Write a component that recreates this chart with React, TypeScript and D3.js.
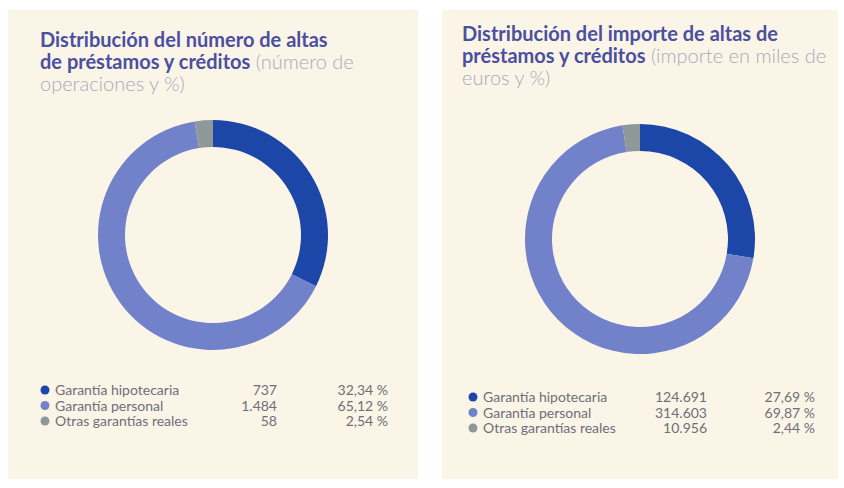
import React from 'react'
import * as d3 from 'd3'

// datos
const categorias = ['Garantía hipotecaria', 'Garantía personal', 'Otras garantías reales']
const operaciones = [737, 1484, 58]
const operacionesPct = [32.34, 65.12, 2.54]
const importes = [124691, 314603, 10956]
const importesPct = [27.69, 69.87, 2.44]
const colores = ['#1d46a9', '#7182cb', '#8e9898']

const es = d3.formatLocale({ decimal: ',', thousands: '.', grouping: [3], currency: ['', ' €'] })
const fmtNum = es.format(',d')
const fmtPct = (v: number) => es.format('.2f')(v) + ' %'

type PanelProps = {
  x: number
  w: number
  titleX: number
  titleLines: { bold: string; light?: string }[]
  titleY: number
  values: number[]
  pcts: number[]
  cx: number
  cy: number
  legendY: number
  legendX: number
  numX: number
  pctX: number
}

function Panel(p: PanelProps) {
  const pie = d3.pie<number>().sort(null).value((d) => d)
  const arcs = pie(p.values)
  const arc = d3.arc<d3.PieArcDatum<number>>().innerRadius(88).outerRadius(115)
  const rowH = 15.5
  return (
    <g>
      <rect x={p.x} y={10} width={p.w} height={469} fill="#fbf5e8" />
      <text fontFamily="Lato" fontSize={20}>
        {p.titleLines.map((l, i) => (
          <tspan key={i} x={p.titleX} y={p.titleY + i * 22}>
            <tspan fill="#4a4f9f" fontWeight={700}>{l.bold}</tspan>
            {l.light && <tspan fill="#a9a9b8" fontWeight={300}>{l.light}</tspan>}
          </tspan>
        ))}
      </text>
      <g transform={`translate(${p.cx},${p.cy})`}>
        {arcs.map((a, i) => (
          <path key={i} d={arc(a) || ''} fill={colores[i]} />
        ))}
      </g>
      <g fontFamily="Lato" fontSize={14} fill="#6e6e78">
        {categorias.map((c, i) => {
          const y = p.legendY + i * rowH
          return (
            <g key={c}>
              <circle cx={p.legendX} cy={y - 5} r={4.5} fill={colores[i]} />
              <text x={p.legendX + 10} y={y}>{c}</text>
              <text x={p.numX} y={y} textAnchor="end">{fmtNum(p.values[i])}</text>
              <text x={p.pctX} y={y} textAnchor="end">{fmtPct(p.pcts[i])}</text>
            </g>
          )
        })}
      </g>
    </g>
  )
}

export default function App() {
  return (
    <svg width={844} height={488} style={{ position: 'fixed', left: 0, top: 0, background: '#fff' }}>
      <Panel
        x={8}
        w={410}
        titleX={40}
        titleLines={[
          { bold: 'Distribución del número de altas' },
          { bold: 'de préstamos y créditos', light: ' (número de' },
          { bold: '', light: 'operaciones y %)' },
        ]}
        titleY={47}
        values={operaciones}
        pcts={operacionesPct}
        cx={213}
        cy={235}
        legendX={45}
        legendY={395}
        numX={277}
        pctX={388}
      />
      <Panel
        x={442}
        w={396}
        titleX={462}
        titleLines={[
          { bold: 'Distribución del importe de altas de' },
          { bold: 'préstamos y créditos', light: '  (importe en miles de' },
          { bold: '', light: 'euros y %)' },
        ]}
        titleY={41}
        values={importes}
        pcts={importesPct}
        cx={640}
        cy={239}
        legendX={473}
        legendY={402}
        numX={707}
        pctX={815}
      />
    </svg>
  )
}
